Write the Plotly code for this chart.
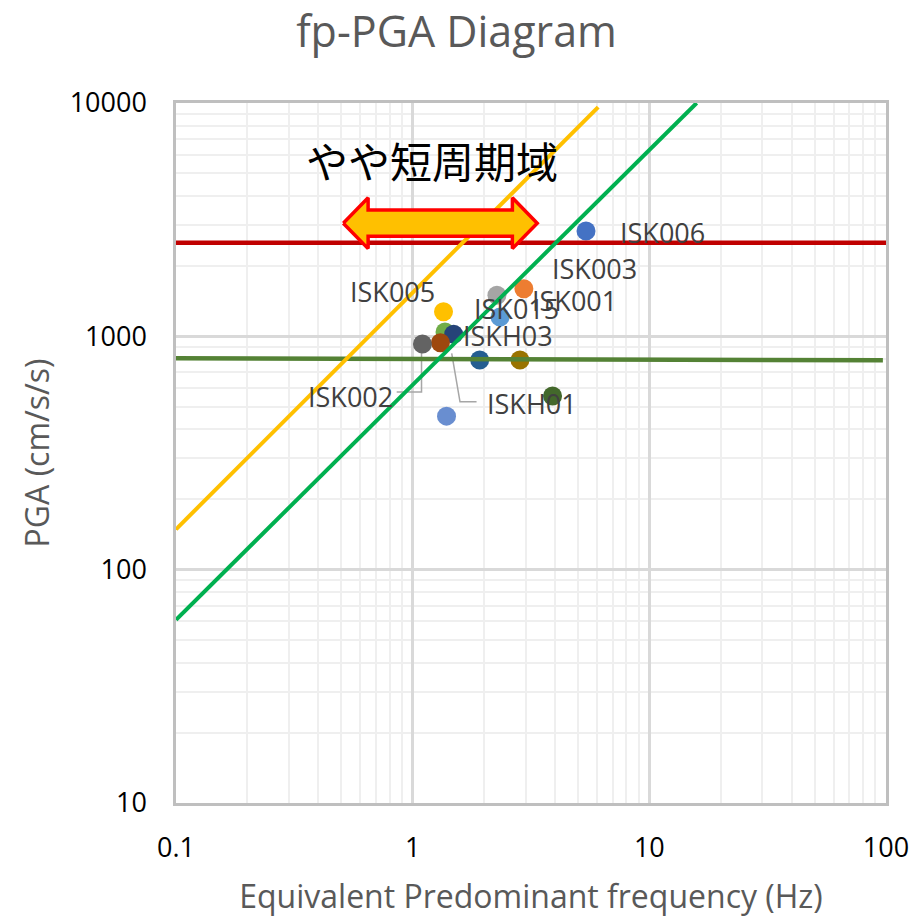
import math
import plotly.graph_objects as go

# --- observation points: equivalent predominant frequency (Hz) vs PGA (cm/s/s)
point_freq = [5.40, 2.95, 2.27, 1.35, 2.34, 1.37, 1.49, 1.31, 1.10, 2.84, 1.92, 3.90, 1.39]
point_pga = [2830, 1600, 1500, 1274, 1211, 1044, 1021, 938, 927, 791, 791, 555, 455]
point_colors = ["#4472C4", "#ED7D31", "#A5A5A5", "#FFC000", "#5B9BD5", "#70AD47",
                "#264478", "#9E480E", "#636363", "#997300", "#255E91", "#43682B", "#698ED0"]

# station labels: (name, index of point, pixel offset x, pixel offset y)
label_names = ["ISK006", "ISK003", "ISK001", "ISK005", "ISK015", "ISKH03", "ISK002", "ISKH01"]
label_points = [0, 1, 2, 3, 4, 6, 8, 7]
label_dx = [76, 71, 78, -51, 16, 54, -72, 92]
label_dy = [-2, 20, -5, 20, 8, -1, -52, -61]

# leader lines for the two offset labels
leader_isk002_f = [0.856, 1.09, 1.09]
leader_isk002_pga = [578, 578, 917]
leader_iskh01_f = [1.862, 1.585, 1.462]
leader_iskh01_pga = [524, 524, 846]

# reference lines
yellow_f = [0.1, 6.08]
yellow_pga = [149, 9600]
green_f = [0.1, 15.85]
green_pga = [61, 10000]
red_f = [0.1, 100]
red_pga = [2520, 2520]
olive_f = [0.1, 97]
olive_pga = [805, 789]

# band arrow for the slightly-short-period range
band_f = [0.509, 3.36]
band_pga = 3055
band_label = "やや短周期域"

x_tickvals = [0.1, 1, 10, 100]
x_ticktext = ["0.1", "1", "10", "100"]
y_tickvals = [10, 100, 1000, 10000]
y_ticktext = ["10", "100", "1000", "10000"]

FONT = "Open Sans"

fig = go.Figure()

# leader lines (under the markers)
for fx, py in [(leader_isk002_f, leader_isk002_pga), (leader_iskh01_f, leader_iskh01_pga)]:
    fig.add_trace(go.Scatter(x=fx, y=py, mode="lines",
                             line=dict(color="#A6A6A6", width=1.5),
                             hoverinfo="skip", showlegend=False))

fig.add_trace(go.Scatter(
    x=point_freq, y=point_pga, mode="markers",
    marker=dict(size=19, color=point_colors, line=dict(width=0)),
    showlegend=False,
))

for fx, py, col, w in [(olive_f, olive_pga, "#548235", 4.5),
                       (red_f, red_pga, "#C00000", 4.5),
                       (yellow_f, yellow_pga, "#FFC000", 4),
                       (green_f, green_pga, "#00B050", 4)]:
    fig.add_trace(go.Scatter(x=fx, y=py, mode="lines", line=dict(color=col, width=w),
                             hoverinfo="skip", showlegend=False))

# double-headed arrow polygon, built in log space from the band range
lf0, lf1 = math.log10(band_f[0]), math.log10(band_f[1])
lc = math.log10(band_pga)
head_len = 0.105
head_half = 0.109
shaft_half = 0.056
arrow_lx = [lf0, lf0 + head_len, lf0 + head_len, lf1 - head_len, lf1 - head_len, lf1,
            lf1 - head_len, lf1 - head_len, lf0 + head_len, lf0 + head_len, lf0]
arrow_ly = [lc, lc + head_half, lc + shaft_half, lc + shaft_half, lc + head_half, lc,
            lc - head_half, lc - shaft_half, lc - shaft_half, lc - head_half, lc]
fig.add_trace(go.Scatter(
    x=[10 ** v for v in arrow_lx], y=[10 ** v for v in arrow_ly],
    mode="lines", fill="toself", fillcolor="#FFC000",
    line=dict(color="#FF0000", width=3.5), hoverinfo="skip", showlegend=False,
))

for name, idx, dx, dy in zip(label_names, label_points, label_dx, label_dy):
    fig.add_annotation(
        x=math.log10(point_freq[idx]), y=math.log10(point_pga[idx]),
        text=name, showarrow=False, xshift=dx, yshift=dy,
        xanchor="center", yanchor="middle", borderpad=0,
        font=dict(family=FONT, size=27, color="#404040"),
    )

fig.add_annotation(
    x=(lf0 + lf1) / 2 - 0.035, y=lc + 0.274, text=band_label, showarrow=False,
    xanchor="center", yanchor="middle",
    font=dict(family="Noto Sans CJK JP", size=42, color="#000000"),
)

axis_common = dict(
    type="log",
    showgrid=True, gridcolor="#D9D9D9", gridwidth=2.5,
    showline=True, linecolor="#BFBFBF", linewidth=2.5, mirror=True,
    ticks="", zeroline=False,
    tickfont=dict(family=FONT, size=27, color="#000000"),
)

minor_x = [m * 10 ** e for e in (-1, 0, 1) for m in range(2, 10)]
minor_y = [m * 10 ** e for e in (1, 2, 3) for m in range(2, 10)]

fig.update_xaxes(
    **axis_common, range=[-1, 2], tickvals=x_tickvals, ticktext=x_ticktext,
    minor=dict(tickvals=minor_x, showgrid=True, gridcolor="#EFEFEF", gridwidth=2),
    title=dict(text="Equivalent Predominant frequency (Hz)",
               font=dict(family=FONT, size=32, color="#595959"), standoff=22),
    ticklabelstandoff=19,
)
fig.update_yaxes(
    **axis_common, range=[1, 4], tickvals=y_tickvals, ticktext=y_ticktext,
    minor=dict(tickvals=minor_y, showgrid=True, gridcolor="#EFEFEF", gridwidth=2),
    title=dict(text="PGA (cm/s/s)",
               font=dict(family=FONT, size=32, color="#595959"), standoff=11),
    ticklabelstandoff=21,
)

fig.update_layout(
    width=913, height=919,
    margin=dict(l=176, r=27, t=103, b=116, autoexpand=False),
    paper_bgcolor="white", plot_bgcolor="white",
    title=dict(text="fp-PGA Diagram", x=0.5, xref="container", xanchor="center",
               y=1 - 32 / 919, yref="container", yanchor="middle",
               font=dict(family=FONT, size=43, color="#595959")),
    showlegend=False,
)

fig.write_html("out.html")
